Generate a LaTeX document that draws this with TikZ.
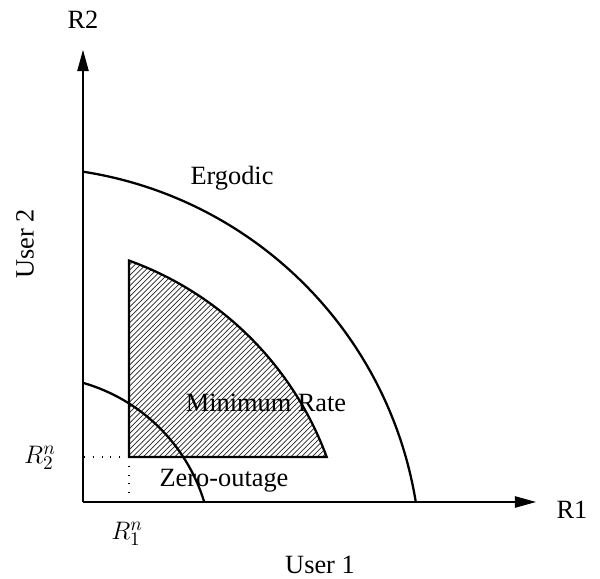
\documentclass[tikz,border=0pt]{standalone}
\usepackage{fontspec}
\setmainfont{Liberation Serif}
\usetikzlibrary{arrows.meta,patterns,positioning}

\begin{document}
\begin{tikzpicture}[>={Triangle[length=12pt,width=6.5pt]},
  axis/.style={->,line width=0.6pt},
  bound/.style={line width=1.3pt},
  guide/.style={line width=0.6pt,dash pattern=on 0.6pt off 4.4pt},
  lbl/.style={font=\fontsize{15}{18}\selectfont,inner sep=1pt}]
  \useasboundingbox (-1.66,-1.54) rectangle (10.34,10.04);

  % axes
  \coordinate (O) at (0,0);
  \coordinate (ytip) at (0,9.04);
  \coordinate (xtip) at (9.06,0);
  \draw[axis] (O) -- (ytip);
  \draw[axis] (O) -- (xtip);
  \node[lbl] (r2) at (0,9.64) {R2};
  \node[lbl] (r1) at (9.78,-0.16) {R1};
  \node[lbl] (user1) at (4.74,-1.26) {User 1};
  \node[lbl,rotate=90] (user2) at (-1.16,5.16) {User 2};

  % minimum rate point
  \coordinate (C) at (0.92,0.90);
  \coordinate (Ctop) at (0.92,4.828);
  \draw[guide] (C) -- (C -| O);
  \draw[guide] (C) -- (C |- O);
  \node[lbl] (rn2) at (-0.86,0.88) {$R_2^n$};
  \node[lbl] (rn1) at (0.88,-0.64) {$R_1^n$};

  % hatched region
  \draw[bound,pattern=north east lines,pattern color=black!85]
    (Ctop) arc[start angle=70.16,end angle=20.21,radius=6.6] -- (C) -- cycle;

  % outer and inner boundaries
  \coordinate (ergtop) at (0,6.606);
  \coordinate (zerotop) at (0,2.383);
  \draw[bound] (ergtop) arc[start angle=81.2,end angle=9.23,radius=7.98];
  \draw[bound] (zerotop) arc[start angle=74.02,end angle=16.98,radius=3.56];

  \node[lbl] (erg) at (2.98,6.48) {Ergodic};
  \node[lbl] (minrate) at (3.66,1.98) {Minimum Rate};
  \node[lbl] (zero) at (2.82,0.42) {Zero-outage};
\end{tikzpicture}
\end{document}
